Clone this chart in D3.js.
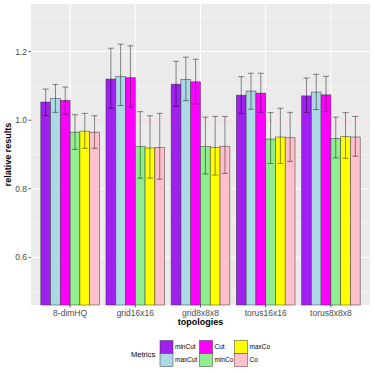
<!DOCTYPE html>
<html>
<head>
<meta charset="utf-8">
<script src="https://cdn.jsdelivr.net/npm/d3@7"></script>
<style>
body { margin: 0; background: #fff; }
text { font-family: "Liberation Sans", Arial, sans-serif; }
</style>
</head>
<body>
<svg width="374" height="374"></svg>
<script>
// chart data
var topologies = ["8-dimHQ", "grid16x16", "grid8x8x8", "torus16x16", "torus8x8x8"];
var metrics = ["minCut", "maxCut", "Cut", "minCo", "maxCo", "Co"];
var metricColors = ["#A020F0", "#ADD8E6", "#FF00FF", "#90EE90", "#FFFF00", "#FFC0CB"];
// mean per topology, in metric order
var meanValues = [
    [1.053, 1.063, 1.058, 0.965, 0.968, 0.965],
    [1.120, 1.128, 1.124, 0.924, 0.919, 0.920],
    [1.105, 1.119, 1.112, 0.923, 0.921, 0.924],
    [1.073, 1.085, 1.079, 0.945, 0.951, 0.949],
    [1.071, 1.082, 1.074, 0.947, 0.952, 0.951]
];
var lowValues = [
    [1.013, 1.023, 1.017, 0.915, 0.918, 0.918],
    [1.035, 1.043, 1.038, 0.831, 0.831, 0.828],
    [1.041, 1.057, 1.047, 0.843, 0.840, 0.845],
    [1.020, 1.032, 1.023, 0.874, 0.874, 0.880],
    [1.023, 1.031, 1.025, 0.890, 0.889, 0.895]
];
var highValues = [
    [1.091, 1.104, 1.097, 1.016, 1.020, 1.013],
    [1.210, 1.222, 1.217, 1.025, 1.013, 1.020],
    [1.172, 1.184, 1.178, 1.009, 1.011, 1.011],
    [1.127, 1.137, 1.137, 1.022, 1.035, 1.023],
    [1.123, 1.134, 1.128, 1.009, 1.022, 1.011]
];
var yTicks = [0.6, 0.8, 1.0, 1.2];
var yMinor = [0.5, 0.7, 0.9, 1.1, 1.3];
var refLine = 1.0;
var yLimits = [0.461, 1.339];

var svg = d3.select("svg");
var panel = { left: 31, right: 370, top: 4, bottom: 305 };

var x = d3.scaleBand()
    .domain(topologies)
    .range([panel.left, panel.right])
    .paddingInner(0.1)
    .paddingOuter(0.55);
// ggplot style: unit spacing with 0.6 expansion, dodge width 0.9
var unit = (panel.right - panel.left) / (topologies.length + 0.2);
function groupCenter(t) { return panel.left + unit * (0.6 + topologies.indexOf(t)); }
var barW = unit * 0.9 / metrics.length;

var y = d3.scaleLinear().domain(yLimits).range([panel.bottom, panel.top]);

// panel background
svg.append("rect")
    .attr("x", panel.left).attr("y", panel.top)
    .attr("width", panel.right - panel.left)
    .attr("height", panel.bottom - panel.top)
    .attr("fill", "#EBEBEB");

// grid lines
svg.selectAll(".minor").data(yMinor).enter().append("line")
    .attr("x1", panel.left).attr("x2", panel.right)
    .attr("y1", d => y(d)).attr("y2", d => y(d))
    .attr("stroke", "#fff").attr("stroke-width", 0.5);
svg.selectAll(".major").data(yTicks).enter().append("line")
    .attr("x1", panel.left).attr("x2", panel.right)
    .attr("y1", d => y(d)).attr("y2", d => y(d))
    .attr("stroke", "#fff").attr("stroke-width", 1);
svg.selectAll(".vmajor").data(topologies).enter().append("line")
    .attr("x1", d => groupCenter(d)).attr("x2", d => groupCenter(d))
    .attr("y1", panel.top).attr("y2", panel.bottom)
    .attr("stroke", "#fff").attr("stroke-width", 1);

// reference line
svg.append("line")
    .attr("x1", panel.left).attr("x2", panel.right)
    .attr("y1", y(refLine)).attr("y2", y(refLine))
    .attr("stroke", "#FF4040").attr("stroke-opacity", 0.7)
    .attr("stroke-width", 0.7).attr("stroke-dasharray", "1,1.5");

// flatten data
var bars = [];
topologies.forEach(function (t, i) {
    metrics.forEach(function (m, j) {
        bars.push({
            topology: t, metric: m, color: metricColors[j],
            x: groupCenter(t) - unit * 0.45 + j * barW,
            mean: meanValues[i][j], low: lowValues[i][j], high: highValues[i][j]
        });
    });
});

var plot = svg.append("g");
plot.selectAll(".bar").data(bars).enter().append("rect")
    .attr("class", "bar")
    .attr("x", d => d.x)
    .attr("width", barW)
    .attr("y", d => y(d.mean))
    .attr("height", d => panel.bottom - y(d.mean))
    .attr("fill", d => d.color)
    .attr("stroke", "#333").attr("stroke-opacity", 0.7)
    .attr("stroke-width", 0.7);

// error bars
var capW = 3;
var err = plot.selectAll(".err").data(bars).enter().append("g")
    .attr("stroke", "#000").attr("stroke-opacity", 0.5).attr("stroke-width", 0.9);
err.append("line")
    .attr("x1", d => d.x + barW / 2).attr("x2", d => d.x + barW / 2)
    .attr("y1", d => y(d.low)).attr("y2", d => y(d.high));
err.append("line")
    .attr("x1", d => d.x + barW / 2 - capW).attr("x2", d => d.x + barW / 2 + capW)
    .attr("y1", d => y(d.low)).attr("y2", d => y(d.low));
err.append("line")
    .attr("x1", d => d.x + barW / 2 - capW).attr("x2", d => d.x + barW / 2 + capW)
    .attr("y1", d => y(d.high)).attr("y2", d => y(d.high));

// y axis
svg.selectAll(".ytick").data(yTicks).enter().append("line")
    .attr("x1", panel.left - 2.5).attr("x2", panel.left)
    .attr("y1", d => y(d)).attr("y2", d => y(d))
    .attr("stroke", "#333").attr("stroke-width", 0.8);
svg.selectAll(".ylab").data(yTicks).enter().append("text")
    .attr("x", panel.left - 4).attr("y", d => y(d))
    .attr("dy", "0.35em")
    .attr("text-anchor", "end")
    .attr("font-size", 8.5).attr("fill", "#4D4D4D")
    .text(d => d.toFixed(1));

// x axis
svg.selectAll(".xtick").data(topologies).enter().append("line")
    .attr("x1", d => groupCenter(d)).attr("x2", d => groupCenter(d))
    .attr("y1", panel.bottom).attr("y2", panel.bottom + 2.5)
    .attr("stroke", "#333").attr("stroke-width", 0.8);
svg.selectAll(".xlab").data(topologies).enter().append("text")
    .attr("x", d => groupCenter(d)).attr("y", panel.bottom + 11)
    .attr("text-anchor", "middle")
    .attr("font-size", 8.5).attr("fill", "#4D4D4D")
    .text(d => d);

// axis titles
svg.append("text")
    .attr("x", (panel.left + panel.right) / 2).attr("y", 325)
    .attr("text-anchor", "middle")
    .attr("font-size", 9).attr("font-weight", "bold")
    .text("topologies");
svg.append("text")
    .attr("transform", "translate(11," + ((panel.top + panel.bottom) / 2) + ") rotate(-90)")
    .attr("text-anchor", "middle")
    .attr("font-size", 9).attr("font-weight", "bold")
    .text("relative results");

// legend
var legend = svg.append("g");
legend.append("text")
    .attr("x", 131).attr("y", 354).attr("dy", "0.35em")
    .attr("font-size", 7.5)
    .text("Metrics");
var keySize = 13;
var colX = [160, 199.5, 234.5];
metrics.forEach(function (m, j) {
    var col = Math.floor(j / 2), row = j % 2;
    var kx = colX[col], ky = 340.5 + row * keySize;
    legend.append("rect")
        .attr("x", kx).attr("y", ky)
        .attr("width", keySize).attr("height", keySize)
        .attr("fill", metricColors[j])
        .attr("stroke", "#333").attr("stroke-opacity", 0.7).attr("stroke-width", 0.7);
    legend.append("text")
        .attr("x", kx + keySize + 2).attr("y", ky + keySize / 2).attr("dy", "0.35em")
        .attr("font-size", 6.5)
        .text(m);
});
</script>
</body>
</html>
